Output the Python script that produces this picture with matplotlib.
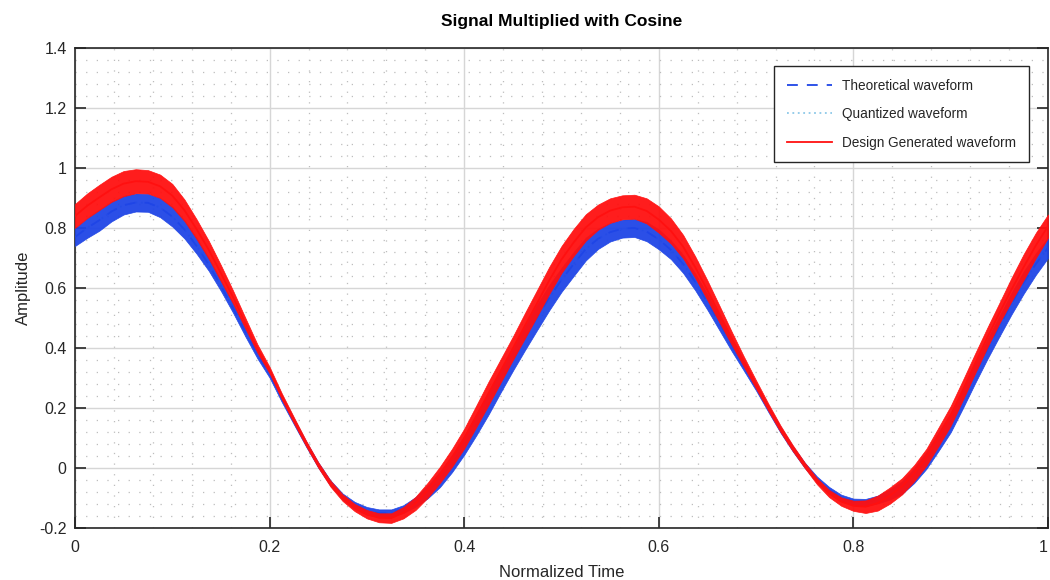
import numpy as np
import matplotlib
matplotlib.use("Agg")
import matplotlib.pyplot as plt
from matplotlib.ticker import MultipleLocator, FuncFormatter

plt.rcParams['font.family'] = ['Liberation Sans', 'DejaVu Sans']
plt.rcParams['axes.unicode_minus'] = False

t_start, t_stop, n_samples = 0.0, 1.0, 81

# Theoretical waveform (blue): centre of the noisy trace and half-thickness of its noise
theory_mid = [0.770, 0.800, 0.826, 0.855, 0.876, 0.885, 0.884, 0.868, 0.838, 0.795,
              0.740, 0.678, 0.607, 0.533, 0.455, 0.380, 0.315, 0.232, 0.155, 0.080,
              0.010, -0.050, -0.095, -0.125, -0.143, -0.151, -0.150, -0.137, -0.113, -0.080,
              -0.038, 0.015, 0.076, 0.145, 0.216, 0.288, 0.360, 0.433, 0.503, 0.568,
              0.627, 0.680, 0.730, 0.764, 0.786, 0.798, 0.800, 0.788, 0.762, 0.727,
              0.680, 0.620, 0.553, 0.482, 0.410, 0.340, 0.270, 0.198, 0.128, 0.065,
              0.009, -0.038, -0.074, -0.100, -0.113, -0.115, -0.105, -0.088, -0.065, -0.025,
              0.025, 0.088, 0.152, 0.232, 0.315, 0.395, 0.472, 0.548, 0.618, 0.680, 0.734]
theory_noise = [0.030, 0.033, 0.035, 0.033, 0.031, 0.030, 0.030, 0.032, 0.033, 0.030,
                0.026, 0.021, 0.017, 0.016, 0.016, 0.015, 0.014, 0.012, 0.010, 0.009,
                0.009, 0.009, 0.010, 0.012, 0.013, 0.013, 0.012, 0.013, 0.016, 0.021,
                0.026, 0.029, 0.032, 0.036, 0.038, 0.036, 0.036, 0.040, 0.043, 0.042,
                0.040, 0.040, 0.038, 0.034, 0.031, 0.030, 0.030, 0.032, 0.033, 0.031,
                0.030, 0.028, 0.026, 0.024, 0.021, 0.016, 0.012, 0.011, 0.010, 0.009,
                0.009, 0.010, 0.011, 0.011, 0.011, 0.012, 0.013, 0.017, 0.021, 0.025,
                0.028, 0.031, 0.033, 0.033, 0.033, 0.033, 0.034, 0.036, 0.037, 0.036, 0.034]

# Design generated waveform (red)
design_mid = [0.840, 0.874, 0.902, 0.929, 0.948, 0.956, 0.954, 0.939, 0.908, 0.859,
              0.796, 0.727, 0.649, 0.569, 0.483, 0.398, 0.326, 0.239, 0.159, 0.082,
              0.010, -0.052, -0.099, -0.132, -0.154, -0.166, -0.167, -0.149, -0.118, -0.074,
              -0.023, 0.034, 0.098, 0.173, 0.249, 0.324, 0.399, 0.475, 0.550, 0.626,
              0.695, 0.752, 0.802, 0.836, 0.858, 0.869, 0.871, 0.857, 0.828, 0.790,
              0.738, 0.669, 0.592, 0.512, 0.432, 0.354, 0.278, 0.203, 0.131, 0.067,
              0.009, -0.044, -0.085, -0.112, -0.126, -0.129, -0.117, -0.092, -0.061, -0.017,
              0.036, 0.104, 0.174, 0.260, 0.348, 0.434, 0.516, 0.595, 0.670, 0.742, 0.806]
design_noise = [0.040, 0.041, 0.042, 0.042, 0.042, 0.040, 0.039, 0.039, 0.039, 0.036,
                0.033, 0.030, 0.027, 0.022, 0.018, 0.014, 0.011, 0.010, 0.010, 0.009,
                0.009, 0.010, 0.011, 0.012, 0.014, 0.015, 0.016, 0.019, 0.022, 0.025,
                0.027, 0.030, 0.033, 0.036, 0.039, 0.039, 0.039, 0.042, 0.044, 0.045,
                0.045, 0.045, 0.044, 0.042, 0.041, 0.040, 0.040, 0.042, 0.044, 0.042,
                0.039, 0.036, 0.033, 0.028, 0.022, 0.017, 0.014, 0.012, 0.011, 0.010,
                0.009, 0.010, 0.012, 0.014, 0.017, 0.021, 0.025, 0.027, 0.027, 0.027,
                0.028, 0.031, 0.033, 0.033, 0.033, 0.033, 0.034, 0.039, 0.043, 0.042, 0.039]

labels = ["Theoretical waveform", "Quantized waveform", "Design Generated waveform"]
x_ticks = [0, 0.2, 0.4, 0.6, 0.8, 1.0]
y_ticks = [-0.2, 0, 0.2, 0.4, 0.6, 0.8, 1.0, 1.2, 1.4]

# ---- figure ----
fig = plt.figure(figsize=(10.5, 5.8), dpi=100)
ax = fig.add_axes([75/1050, 1-528/580, 973/1050, 480/580])

tt = np.linspace(t_start, t_stop, n_samples)
b_mid, b_n = np.array(theory_mid), np.array(theory_noise)
d_mid, d_n = np.array(design_mid), np.array(design_noise)

blue = '#1f45e6'
red = '#ff1010'
lightblue = '#8cc8e8'

ax.plot(tt, b_mid, color=blue, ls=(0, (6, 5)), lw=1.3, label=labels[0], zorder=3)
ax.fill_between(tt, b_mid - b_n, b_mid + b_n, color=blue, lw=0.5, alpha=0.95, zorder=3)
ax.plot(tt, b_mid, color=lightblue, ls=(0, (1, 2)), lw=1.3, label=labels[1], zorder=2)
ax.plot(tt, d_mid, color=red, ls='-', lw=1.3, label=labels[2], zorder=4)
ax.fill_between(tt, d_mid - d_n, d_mid + d_n, color=red, lw=0.5, alpha=0.95, zorder=4)

ax.set_xlim(0, 1)
ax.set_ylim(-0.2, 1.4)
ax.set_xticks(x_ticks)
ax.set_yticks(y_ticks)
ax.xaxis.set_minor_locator(MultipleLocator(0.04))
ax.yaxis.set_minor_locator(MultipleLocator(0.04))
fmt = FuncFormatter(lambda v, p: ('%g' % round(v, 4)))
ax.xaxis.set_major_formatter(fmt)
ax.yaxis.set_major_formatter(fmt)

ax.grid(which='major', color='#d6d6d6', lw=1.0, ls='-', zorder=0)
ax.grid(which='minor', color='#bdbdbd', lw=0.9, ls=(0, (1, 7.5)), zorder=0)
ax.set_axisbelow(True)

ax.tick_params(which='major', direction='in', length=8, width=1.2, colors='#262626',
               labelsize=11.5, top=False, right=True)
ax.tick_params(axis='x', which='major', pad=9)
ax.tick_params(axis='y', which='major', pad=6)
ax.tick_params(which='minor', length=0)
for s in ax.spines.values():
    s.set_color('#262626')
    s.set_linewidth(1.2)

# keep the last x tick label ("1") inside the figure edge
fig.canvas.draw()
ax.get_xticklabels()[-1].set_horizontalalignment('right')
ax.get_xticklabels()[-1].set_x(1.0)

ax.set_title("Signal Multiplied with Cosine", fontsize=12.5, fontweight='bold', pad=16)
ax.set_xlabel("Normalized Time", fontsize=12, color='#262626', labelpad=7)
ax.set_ylabel("Amplitude", fontsize=12, color='#262626', labelpad=6)

leg = ax.legend(loc='upper right', bbox_to_anchor=((1029-75)/973, (528-66)/480),
                borderaxespad=0, fontsize=9.8, fancybox=False, framealpha=1,
                edgecolor='#262626', handlelength=3.3, handletextpad=0.75,
                labelspacing=1.05, borderpad=0.95)
leg.get_frame().set_linewidth(1.0)
for text in leg.get_texts():
    text.set_color('#262626')

for lbl in ax.get_xticklabels():
    if lbl.get_text() == '1':
        lbl.set_horizontalalignment('right')

fig.savefig("out.png", dpi=100)
